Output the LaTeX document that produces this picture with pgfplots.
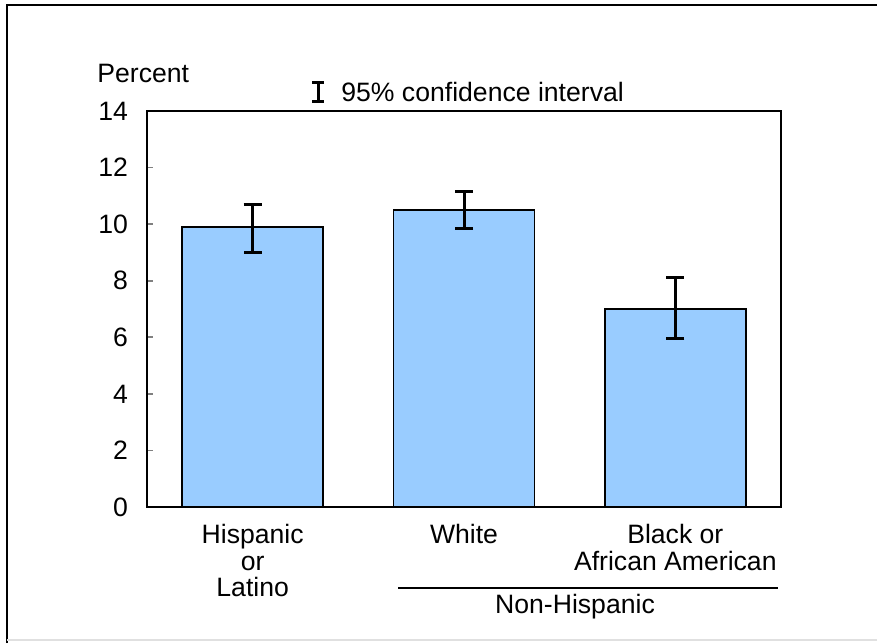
\documentclass[border=0pt]{standalone}
\usepackage{fontspec}
\setmainfont{Liberation Sans}
\usepackage{pgfplots}
\pgfplotsset{compat=1.18}
\definecolor{barblue}{HTML}{99CCFF}
\newcommand{\lbl}{\fontsize{13.3}{13.4}\selectfont}

\begin{document}
\begin{tikzpicture}
% page layout in half-point units, y running downward
\begin{scope}[x=0.5pt,y=-0.5pt]
  \path[use as bounding box] (0,0) rectangle (877,643);
  \draw[line width=1pt] (7,643) -- (7,5) -- (877,5);
  \draw[black!12, line width=1pt] (7,640) -- (877,640);
  \node[anchor=west, inner sep=0pt, font=\lbl] at (97,73) {Percent};
  % confidence-interval key
  \draw[line width=1.5pt] (318,82) -- (318,101);
  \draw[line width=1.5pt] (312,82) -- (324,82);
  \draw[line width=1.5pt] (312,101) -- (324,101);
  \node[anchor=west, inner sep=0pt, font=\lbl] at (341,92) {95\% confidence interval};
  % grouping rule under the non-Hispanic categories
  \draw[line width=1.2pt] (398,588) -- (778,588);
  \node[inner sep=0pt, font=\lbl] at (575,607) {Non-Hispanic};
\end{scope}

\begin{axis}[
  at={(73.5pt,-253.5pt)}, anchor=south west,
  scale only axis, width=317pt, height=198pt,
  xmin=-0.5, xmax=2.5, ymin=0, ymax=14,
  ytick={0,2,...,14},
  xtick={0,1,2},
  xticklabels={Hispanic\\or\\Latino, White, Black or\\African American},
  axis line style={line width=1pt},
  ytick pos=left, tick align=inside,
  major tick length=3pt,
  ytick style={line width=0.8pt},
  xtick style={draw=none},
  tick label style={font=\lbl},
  /pgf/number format/assume math mode=true,
  xticklabel style={align=center, yshift=-5pt},
  yticklabel style={xshift=-6pt},
]
\addplot[ybar, bar width=70.5pt, fill=barblue, draw=black, line width=0.7pt,
  error bars/.cd, y dir=both, y explicit,
  error bar style={line width=1.5pt, black},
  error mark options={line width=1.5pt, mark size=4.5pt, black, rotate=90}]
  coordinates {
    (0,9.9)  += (0,0.8)  -= (0,0.9)
    (1,10.5) += (0,0.65) -= (0,0.65)
    (2,7.0)  += (0,1.1)  -= (0,1.05)
  };
\end{axis}
\end{tikzpicture}
\end{document}
